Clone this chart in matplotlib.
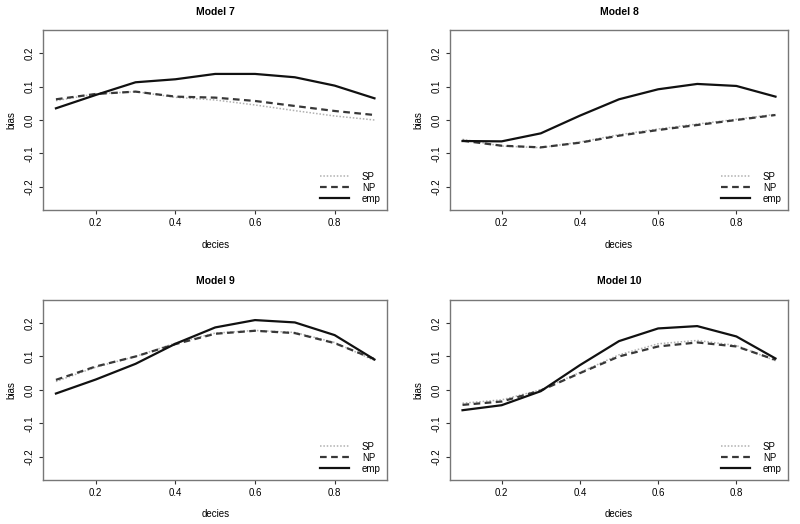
import numpy as np
import matplotlib
matplotlib.use('Agg')
from matplotlib import pyplot as plt

plt.rcParams['font.family'] = ['Liberation Sans', 'DejaVu Sans']

deciles = [0.1, 0.2, 0.3, 0.4, 0.5, 0.6, 0.7, 0.8, 0.9]
titles = ['Model 7', 'Model 8', 'Model 9', 'Model 10']

sp_7 = [0.058, 0.078, 0.085, 0.068, 0.060, 0.045, 0.028, 0.012, 0.000]
np_7 = [0.062, 0.078, 0.085, 0.070, 0.067, 0.057, 0.042, 0.027, 0.015]
emp_7 = [0.035, 0.075, 0.113, 0.122, 0.138, 0.138, 0.128, 0.103, 0.065]

sp_8 = [-0.058, -0.078, -0.083, -0.066, -0.044, -0.027, -0.012, 0.002, 0.017]
np_8 = [-0.062, -0.077, -0.082, -0.068, -0.047, -0.030, -0.015, 0.000, 0.015]
emp_8 = [-0.063, -0.064, -0.040, 0.013, 0.062, 0.092, 0.108, 0.102, 0.070]

sp_9 = [0.025, 0.068, 0.100, 0.140, 0.170, 0.178, 0.172, 0.142, 0.088]
np_9 = [0.030, 0.070, 0.100, 0.137, 0.168, 0.177, 0.170, 0.140, 0.092]
emp_9 = [-0.011, 0.031, 0.078, 0.138, 0.187, 0.209, 0.202, 0.164, 0.091]

sp_10 = [-0.040, -0.030, 0.000, 0.052, 0.105, 0.138, 0.148, 0.133, 0.087]
np_10 = [-0.045, -0.035, -0.002, 0.050, 0.100, 0.130, 0.142, 0.130, 0.090]
emp_10 = [-0.061, -0.046, -0.004, 0.074, 0.146, 0.184, 0.191, 0.160, 0.094]

series = [(sp_7, np_7, emp_7), (sp_8, np_8, emp_8),
          (sp_9, np_9, emp_9), (sp_10, np_10, emp_10)]

x_ticks = [0.2, 0.4, 0.6, 0.8]
y_ticks = [-0.2, -0.1, 0.0, 0.1, 0.2]


def main():
    fig = plt.figure(figsize=(8, 5.24), dpi=100)
    boxes = [(0.054, 0.599), (0.5625, 0.599), (0.054, 0.084), (0.5625, 0.084)]
    widths = [0.43, 0.4225, 0.43, 0.4225]
    for i, (sp, nonpar, emp) in enumerate(series):
        left, bottom = boxes[i]
        ax = fig.add_axes([left, bottom, widths[i], 0.344])
        ax.plot(deciles, sp, color='#b0b0b0', lw=1.1, ls=(0, (1, 1.2)), label='SP')
        ax.plot(deciles, nonpar, color='#383838', lw=1.6, ls=(0, (3, 2)), label='NP')
        ax.plot(deciles, emp, color='#111111', lw=1.6, label='emp')
        ax.set_xlim(0.068, 0.932)
        ax.set_ylim(-0.27, 0.27)
        ax.set_xticks(x_ticks)
        ax.set_xticklabels(['0.2', '0.4', '0.6', '0.8'])
        ax.set_yticks(y_ticks)
        ax.set_yticklabels(['-0.2', '-0.1', '0.0', '0.1', '0.2'], rotation=90, va='center')
        ax.tick_params(labelsize=7, length=3, width=0.8, color='#333333', pad=3)
        for s in ax.spines.values():
            s.set_color('#777777')
            s.set_linewidth(1.0)
        ax.set_title(titles[i], fontsize=7.5, fontweight='bold', pad=11)
        ax.set_xlabel('decies', fontsize=7, labelpad=8)
        ax.set_ylabel('bias', fontsize=7, labelpad=6)
        ax.legend(loc='lower right', frameon=False, fontsize=7, handlelength=3.0,
                  labelspacing=0.1, handletextpad=1.3, borderaxespad=0.25)
    fig.savefig('out.png', dpi=100)


if __name__ == '__main__':
    main()
